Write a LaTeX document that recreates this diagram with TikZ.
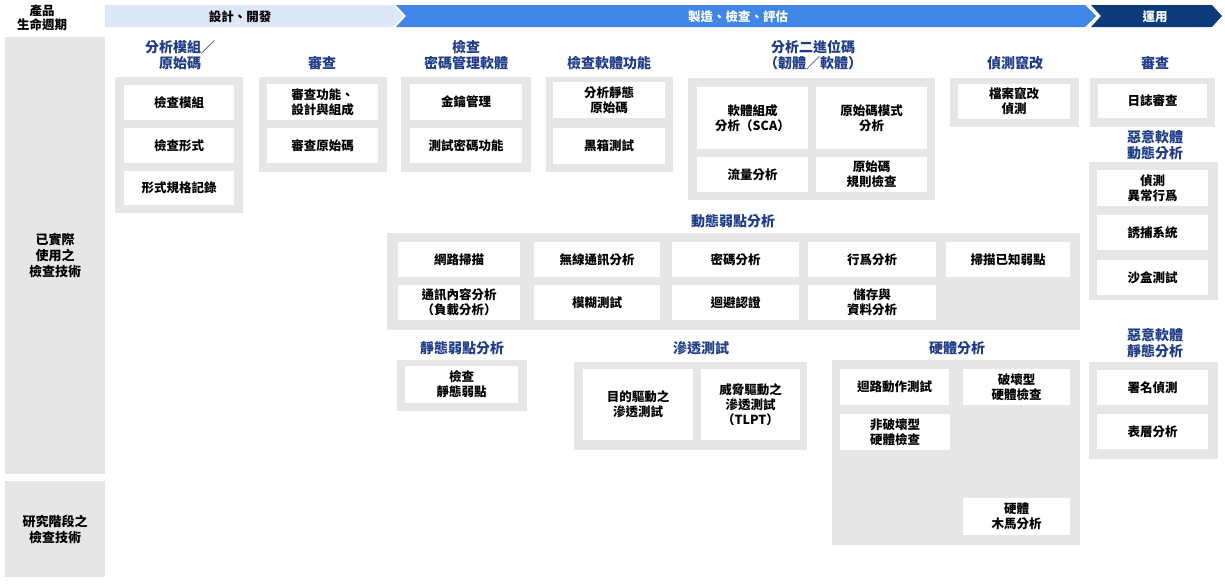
\documentclass[tikz,border=0pt]{standalone}
\usepackage{fontspec}
\setmainfont{Noto Sans CJK TC}
\definecolor{TitleBlue}{HTML}{1F3C88}
\definecolor{BarLight}{HTML}{DCE8F8}
\definecolor{BarMid}{HTML}{3F86E6}
\definecolor{BarDark}{HTML}{0D3A7A}
\definecolor{GrpGray}{HTML}{E6E6E6}
\tikzset{
  cellbox/.style={rectangle, fill=white, inner sep=1pt, align=center, font=\fontsize{12.5}{15}\selectfont\bfseries},
  grptitle/.style={align=center, text=TitleBlue, font=\fontsize{14}{16.5}\selectfont\bfseries},
  sidebox/.style={rectangle, fill=GrpGray, inner sep=0pt, align=center, font=\fontsize{13}{16}\selectfont\bfseries},
  grp/.style={fill=GrpGray}
}
% cell: name, x1, y1, x2, y2, text
\newcommand\cell[6]{\node[cellbox, minimum width={(#4-#2)*1pt}, minimum height={(#5-#3)*1pt}] (#1) at ({(#2+#4)/2},{(#3+#5)/2}) {#6};}
\begin{document}
\begin{tikzpicture}[x=1pt,y=-1pt]
\useasboundingbox[fill=white] (0,0) rectangle (1225,584);
%Cabecera
\node[font=\fontsize{12.5}{14}\selectfont\bfseries, align=center] (ciclo) at (42,18) {產品\\生命週期};
\fill[BarLight] (105,5) -- (393,5) -- (403,16) -- (393,27) -- (105,27) -- cycle;
\fill[BarMid] (396,5) -- (1085,5) -- (1096,16) -- (1085,27) -- (396,27) -- (406,16) -- cycle;
\fill[BarDark] (1091,5) -- (1212,5) -- (1222,16) -- (1212,27) -- (1091,27) -- (1101,16) -- cycle;
\node[font=\fontsize{12.5}{14}\selectfont\bfseries] (diseno) at (240,17) {設計、開發};
\node[font=\fontsize{12.5}{14}\selectfont\bfseries, text=white] (fabrica) at (738,17) {製造、檢查、評估};
\node[font=\fontsize{12.5}{14}\selectfont\bfseries, text=white] (uso) at (1155,17) {運用};
%Columna izquierda
\node[sidebox, minimum width=100pt, minimum height=437pt] (real) at (55,255.5) {已實際\\使用之\\檢查技術};
\node[sidebox, minimum width=100pt, minimum height=96pt] (invest) at (55,529) {研究階段之\\檢查技術};
%Grupos
\fill[grp] (115,77) rectangle (243,213);
\node[grptitle] (t_mod) at (180,55) {分析模組／\\原始碼};
\cell{mod1}{124}{85}{234}{120}{檢查模組}
\cell{mod2}{124}{128}{234}{163}{檢查形式}
\cell{mod3}{124}{171}{234}{205}{形式規格記錄}

\fill[grp] (259,77) rectangle (387,172);
\node[grptitle] (t_rev) at (322,63) {審查};
\cell{rev1}{267}{84}{378}{120}{審查功能、\\設計與組成}
\cell{rev2}{267}{128}{378}{163}{審查原始碼}

\fill[grp] (401,77) rectangle (531,172);
\node[grptitle] (t_cri) at (466,55) {檢查\\密碼管理軟體};
\cell{cri1}{410}{84}{522}{120}{金鑰管理}
\cell{cri2}{410}{128}{522}{163}{測試密碼功能}

\fill[grp] (546,77) rectangle (673,172);
\node[grptitle] (t_fun) at (609,63) {檢查軟體功能};
\cell{fun1}{553}{82}{665}{118}{分析靜態\\原始碼}
\cell{fun2}{553}{128}{665}{164}{黑箱測試}

\fill[grp] (688,78) rectangle (935,200);
\node[grptitle] (t_bin) at (813,55) {分析二進位碼\\（韌體／軟體）};
\cell{bin1}{697}{87}{808}{149}{軟體組成\\分析（SCA）}
\cell{bin2}{816}{87}{927}{149}{原始碼模式\\分析}
\cell{bin3}{697}{157}{808}{192}{流量分析}
\cell{bin4}{816}{157}{927}{192}{原始碼\\規則檢查}

\fill[grp] (950,78) rectangle (1079,127);
\node[grptitle] (t_tam) at (1015,63) {偵測竄改};
\cell{tam1}{958}{84}{1070}{119}{檔案竄改\\偵測}

\fill[grp] (1090,78) rectangle (1215,127);
\node[grptitle] (t_log) at (1155,63) {審查};
\cell{log1}{1098}{84}{1207}{118}{日誌審查}

\fill[grp] (1089,162) rectangle (1218,300);
\node[grptitle] (t_mdy) at (1155,145) {惡意軟體\\動態分析};
\cell{mdy1}{1097}{170}{1208}{206}{偵測\\異常行爲}
\cell{mdy2}{1097}{215}{1208}{250}{誘捕系統}
\cell{mdy3}{1097}{260}{1208}{295}{沙盒測試}

\fill[grp] (1089,362) rectangle (1218,459);
\node[grptitle] (t_mst) at (1155,343) {惡意軟體\\靜態分析};
\cell{mst1}{1097}{370}{1208}{405}{署名偵測}
\cell{mst2}{1097}{414}{1208}{449}{表層分析}

\fill[grp] (387,233) rectangle (1080,330);
\node[grptitle] (t_dyn) at (733,221) {動態弱點分析};
\cell{dyn1}{398}{242}{520}{277}{網路掃描}
\cell{dyn2}{534}{242}{660}{277}{無線通訊分析}
\cell{dyn3}{672}{242}{799}{277}{密碼分析}
\cell{dyn4}{808}{242}{936}{277}{行爲分析}
\cell{dyn5}{946}{242}{1070}{277}{掃描已知弱點}
\cell{dyn6}{398}{285}{520}{320}{通訊內容分析\\（負載分析）}
\cell{dyn7}{534}{285}{660}{320}{模糊測試}
\cell{dyn8}{672}{285}{799}{320}{迴避認證}
\cell{dyn9}{808}{285}{936}{320}{儲存與\\資料分析}

\fill[grp] (397,360) rectangle (527,411);
\node[grptitle] (t_sta) at (462,348) {靜態弱點分析};
\cell{sta1}{405}{366}{518}{403}{檢查\\靜態弱點}

\fill[grp] (574,362) rectangle (807,450);
\node[grptitle] (t_pen) at (701,348) {滲透測試};
\cell{pen1}{583}{369}{693}{440}{目的驅動之\\滲透測試}
\cell{pen2}{701}{369}{800}{440}{威脅驅動之\\滲透測試\\（TLPT）}

\fill[grp] (832,360) rectangle (1080,545);
\node[grptitle] (t_hw) at (957,348) {硬體分析};
\cell{hw1}{840}{369}{949}{405}{迴路動作測試}
\cell{hw2}{963}{369}{1070}{405}{破壞型\\硬體檢查}
\cell{hw3}{840}{414}{950}{450}{非破壞型\\硬體檢查}
\cell{hw4}{963}{498}{1070}{535}{硬體\\木馬分析}
\end{tikzpicture}
\end{document}
